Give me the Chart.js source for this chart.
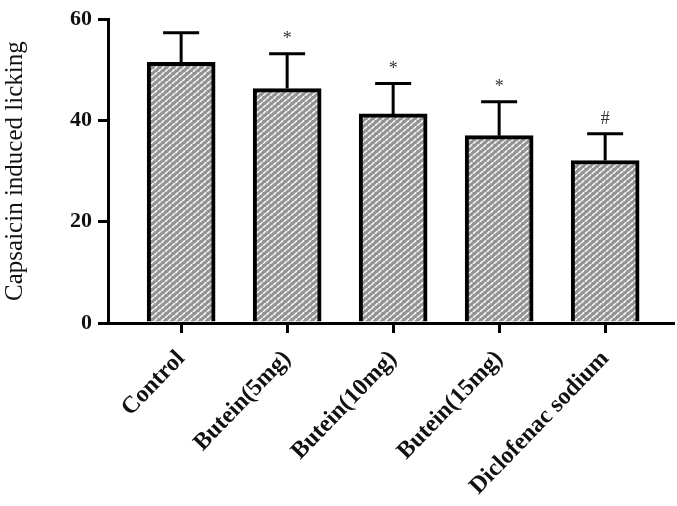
<!DOCTYPE html>
<html>
<head>
<meta charset="utf-8">
<script src="https://cdn.jsdelivr.net/npm/chart.js@4.4.1/dist/chart.umd.min.js"></script>
<style>
  html, body { margin: 0; padding: 0; background: #fff; }
  #wrap { width: 677px; height: 506px; }
</style>
</head>
<body>
<div id="wrap"><canvas id="myChart" width="677" height="506"></canvas></div>
<script>
const groups = ["Control", "Butein(5mg)", "Butein(10mg)", "Butein(15mg)", "Diclofenac sodium"];
const means = [51.5, 46.3, 41.3, 37.0, 32.1];
const sdUpper = [5.8, 6.9, 6.0, 6.7, 5.3];
const marks = ["", "*", "*", "*", "#"];
const yTicks = [0, 20, 40, 60];

// grey brick-like hatch used by the bars
const makePattern = () => {
  const c = document.createElement("canvas");
  c.width = 7;
  c.height = 6;
  const g = c.getContext("2d");
  g.fillStyle = "#939393";
  g.fillRect(0, 0, 7, 6);
  g.strokeStyle = "#f6f6f6";
  g.lineWidth = 1.5;
  g.lineCap = "round";
  g.beginPath();
  g.moveTo(0.8, 2.6); g.lineTo(2.8, 0.6);
  g.moveTo(4.3, 5.6); g.lineTo(6.3, 3.6);
  g.stroke();
  return g.createPattern(c, "repeat");
};

const errorBars = {
  id: "errorBars",
  afterDatasetsDraw(chart) {
    const { ctx, scales: { x, y } } = chart;
    ctx.save();
    ctx.strokeStyle = "#000";
    ctx.lineWidth = 3;
    means.forEach((m, i) => {
      const px = x.getPixelForValue(i);
      const top = y.getPixelForValue(m + sdUpper[i]);
      const base = y.getPixelForValue(m);
      ctx.beginPath();
      ctx.moveTo(px, base);
      ctx.lineTo(px, top);
      ctx.moveTo(px - 18, top);
      ctx.lineTo(px + 18, top);
      ctx.stroke();
      if (marks[i]) {
        ctx.fillStyle = "#333";
        ctx.font = "18px 'Liberation Serif'";
        ctx.textAlign = "center";
        ctx.textBaseline = "bottom";
        ctx.fillText(marks[i], px, top - 5);
      }
    });
    ctx.restore();
  }
};

const ctx = document.getElementById("myChart");
new Chart(ctx, {
  type: "bar",
  data: {
    datasets: [{
      data: means.map((v, i) => ({ x: i, y: v })),
      backgroundColor: makePattern(),
      borderColor: "#000",
      borderWidth: 4,
      borderSkipped: "bottom",
      barThickness: 68,
    }],
  },
  options: {
    responsive: false,
    animation: false,
    layout: { padding: { top: 11, right: 4, left: 0, bottom: 0 } },
    plugins: { legend: { display: false }, tooltip: { enabled: false } },
    scales: {
      x: {
        type: "linear",
        offset: false,
        min: -0.69,
        max: 4.64,
        afterBuildTicks: (s) => { s.ticks = groups.map((_, i) => ({ value: i })); },
        grid: { display: true, offset: false, drawOnChartArea: false, tickLength: 10, lineWidth: 3, color: "#000" },
        border: { display: true, color: "#000", width: 3 },
        ticks: {
          color: "#111",
          minRotation: 46,
          maxRotation: 46,
          padding: 12,
          autoSkip: false,
          font: { family: "'Liberation Serif'", size: 24, weight: "bold" },
          callback: (v) => groups[v],
        },
        afterFit: (s) => { s.height = 183; },
      },
      y: {
        min: 0,
        max: 60,
        afterBuildTicks: (s) => { s.ticks = yTicks.map((v) => ({ value: v })); },
        grid: { display: true, drawOnChartArea: false, tickLength: 10, lineWidth: 3, color: "#000" },
        border: { display: true, color: "#000", width: 3 },
        ticks: {
          color: "#111",
          padding: 6,
          font: { family: "'Liberation Serif'", size: 22, weight: "bold" },
        },
        title: {
          display: true,
          text: "Capsaicin induced licking",
          color: "#111",
          padding: { top: 0, bottom: 8 },
          font: { family: "'Liberation Serif'", size: 25 },
        },
        afterFit: (s) => { s.width = 108; },
      },
    },
  },
  plugins: [errorBars],
});
</script>
</body>
</html>
